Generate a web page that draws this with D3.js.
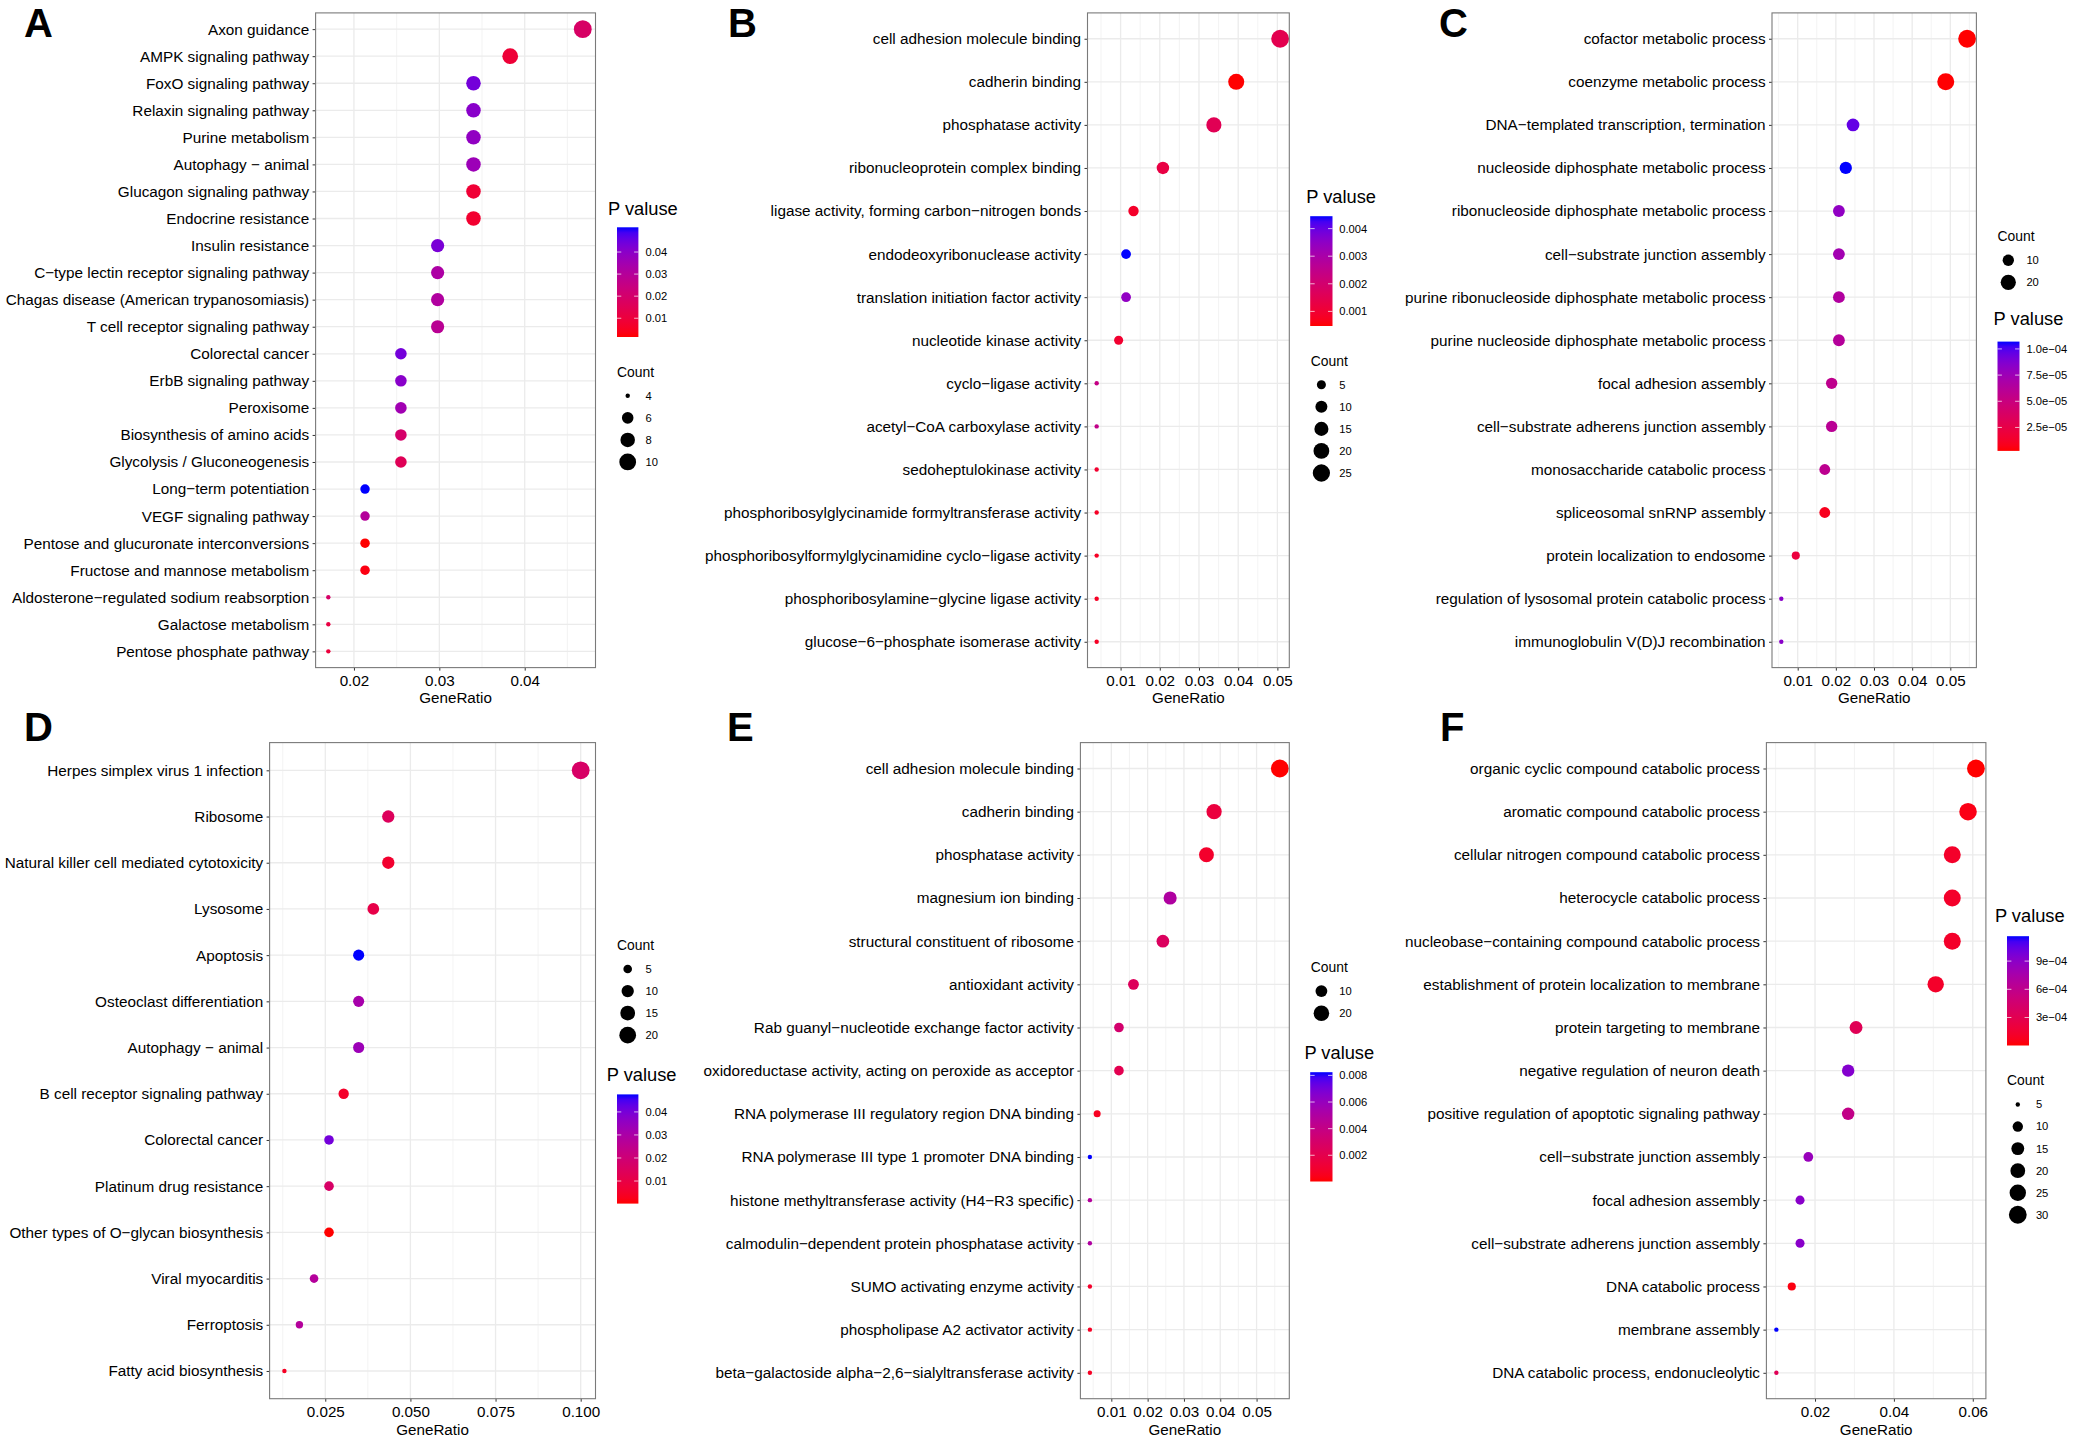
<!DOCTYPE html>
<html>
<head>
<meta charset="utf-8">
<script src="https://cdn.jsdelivr.net/npm/d3@7"></script>
<style>
html,body{margin:0;padding:0;background:#fff;}
svg{display:block;font-family:"Liberation Sans",Arial,sans-serif;}
</style>
</head>
<body>
<svg id="chart" width="2076" height="1443"></svg>
<script>
// ---------- data ----------
const aTerms = ["Axon guidance","AMPK signaling pathway","FoxO signaling pathway","Relaxin signaling pathway","Purine metabolism","Autophagy − animal","Glucagon signaling pathway","Endocrine resistance","Insulin resistance","C−type lectin receptor signaling pathway","Chagas disease (American trypanosomiasis)","T cell receptor signaling pathway","Colorectal cancer","ErbB signaling pathway","Peroxisome","Biosynthesis of amino acids","Glycolysis / Gluconeogenesis","Long−term potentiation","VEGF signaling pathway","Pentose and glucuronate interconversions","Fructose and mannose metabolism","Aldosterone−regulated sodium reabsorption","Galactose metabolism","Pentose phosphate pathway"];
const aRatio = [0.0468,0.0383,0.0340,0.0340,0.0340,0.0340,0.0340,0.0340,0.0298,0.0298,0.0298,0.0298,0.0255,0.0255,0.0255,0.0255,0.0255,0.0213,0.0213,0.0213,0.0213,0.0170,0.0170,0.0170];
const aCount = [11,9,8,8,8,8,8,8,7,7,7,7,6,6,6,6,6,5,5,5,5,4,4,4];
const aP = [0.0185,0.009,0.0437,0.0403,0.0388,0.0363,0.0085,0.0075,0.0428,0.0323,0.0313,0.0288,0.0437,0.0403,0.0353,0.0195,0.0154,0.0512,0.0303,0.0015,0.003,0.0189,0.0114,0.0099];
const aXTicks = [0.02,0.03,0.04];
const aPTicks = [0.01,0.02,0.03,0.04];
const aPLabels = ["0.01","0.02","0.03","0.04"];
const aCountKeys = [4,6,8,10];

const bTerms = ["cell adhesion molecule binding","cadherin binding","phosphatase activity","ribonucleoprotein complex binding","ligase activity, forming carbon−nitrogen bonds","endodeoxyribonuclease activity","translation initiation factor activity","nucleotide kinase activity","cyclo−ligase activity","acetyl−CoA carboxylase activity","sedoheptulokinase activity","phosphoribosylglycinamide formyltransferase activity","phosphoribosylformylglycinamidine cyclo−ligase activity","phosphoribosylamine−glycine ligase activity","glucose−6−phosphate isomerase activity"];
const bRatio = [0.0507,0.0395,0.0338,0.0208,0.0133,0.0114,0.0114,0.0095,0.0039,0.0039,0.0039,0.0039,0.0039,0.0039,0.0039];
const bCount = [27,21,18,11,7,6,6,5,2,2,2,2,2,2,2];
const bP = [0.00147,0.00047,0.00154,0.00127,0.00087,0.00445,0.00346,0.00095,0.00238,0.00246,0.00095,0.0008,0.0008,0.0008,0.0008];
const bXTicks = [0.01,0.02,0.03,0.04,0.05];
const bPTicks = [0.001,0.002,0.003,0.004];
const bPLabels = ["0.001","0.002","0.003","0.004"];
const bCountKeys = [5,10,15,20,25];

const cTerms = ["cofactor metabolic process","coenzyme metabolic process","DNA−templated transcription, termination","nucleoside diphosphate metabolic process","ribonucleoside diphosphate metabolic process","cell−substrate junction assembly","purine ribonucleoside diphosphate metabolic process","purine nucleoside diphosphate metabolic process","focal adhesion assembly","cell−substrate adherens junction assembly","monosaccharide catabolic process","spliceosomal snRNP assembly","protein localization to endosome","regulation of lysosomal protein catabolic process","immunoglobulin V(D)J recombination"];
const cRatio = [0.0544,0.0488,0.0245,0.0226,0.0208,0.0208,0.0208,0.0208,0.0189,0.0189,0.0171,0.0171,0.0095,0.0057,0.0057];
const cCount = [29,26,13,12,11,11,11,11,10,10,9,9,5,3,3];
const cP = [2.6e-6,3.0e-6,9.6e-5,1.07e-4,8.1e-5,7.3e-5,6.5e-5,6.3e-5,5.7e-5,6.0e-5,5.8e-5,9e-6,2.1e-5,8.4e-5,8.4e-5];
const cXTicks = [0.01,0.02,0.03,0.04,0.05];
const cPTicks = [2.5e-5,5e-5,7.5e-5,1e-4];
const cPLabels = ["2.5e−05","5.0e−05","7.5e−05","1.0e−04"];
const cCountKeys = [10,20];

const dTerms = ["Herpes simplex virus 1 infection","Ribosome","Natural killer cell mediated cytotoxicity","Lysosome","Apoptosis","Osteoclast differentiation","Autophagy − animal","B cell receptor signaling pathway","Colorectal cancer","Platinum drug resistance","Other types of O−glycan biosynthesis","Viral myocarditis","Ferroptosis","Fatty acid biosynthesis"];
const dRatio = [0.1,0.0435,0.0435,0.0391,0.0348,0.0348,0.0348,0.0304,0.0261,0.0261,0.0261,0.0217,0.0174,0.013];
const dCount = [23,10,10,9,8,8,8,7,6,6,6,5,4,3];
const dP = [0.0165,0.0145,0.0059,0.0106,0.0476,0.031,0.0334,0.0049,0.0405,0.0165,0.0002,0.0277,0.0277,0.004];
const dXTicks = [0.025,0.05,0.075,0.1];
const dXLabels = ["0.025","0.050","0.075","0.100"];
const dPTicks = [0.01,0.02,0.03,0.04];
const dPLabels = ["0.01","0.02","0.03","0.04"];
const dCountKeys = [5,10,15,20];

const eTerms = ["cell adhesion molecule binding","cadherin binding","phosphatase activity","magnesium ion binding","structural constituent of ribosome","antioxidant activity","Rab guanyl−nucleotide exchange factor activity","oxidoreductase activity, acting on peroxide as acceptor","RNA polymerase III regulatory region DNA binding","RNA polymerase III type 1 promoter DNA binding","histone methyltransferase activity (H4−R3 specific)","calmodulin−dependent protein phosphatase activity","SUMO activating enzyme activity","phospholipase A2 activator activity","beta−galactoside alpha−2,6−sialyltransferase activity"];
const eRatio = [0.0564,0.0383,0.0362,0.0262,0.0242,0.0161,0.0121,0.0121,0.0061,0.0041,0.0041,0.0041,0.0041,0.0041,0.0041];
const eCount = [28,19,18,13,12,8,6,6,3,2,2,2,2,2,2];
const eP = [0.00003,0.0015,0.0009,0.005,0.0026,0.0025,0.0031,0.0021,0.0006,0.00824,0.0048,0.005,0.0009,0.0007,0.0007];
const eXTicks = [0.01,0.02,0.03,0.04,0.05];
const ePTicks = [0.002,0.004,0.006,0.008];
const ePLabels = ["0.002","0.004","0.006","0.008"];
const eCountKeys = [10,20];

const fTerms = ["organic cyclic compound catabolic process","aromatic compound catabolic process","cellular nitrogen compound catabolic process","heterocycle catabolic process","nucleobase−containing compound catabolic process","establishment of protein localization to membrane","protein targeting to membrane","negative regulation of neuron death","positive regulation of apoptotic signaling pathway","cell−substrate junction assembly","focal adhesion assembly","cell−substrate adherens junction assembly","DNA catabolic process","membrane assembly","DNA catabolic process, endonucleolytic"];
const fRatio = [0.0608,0.0588,0.0548,0.0548,0.0548,0.0506,0.0304,0.0284,0.0284,0.0183,0.0162,0.0162,0.0141,0.0102,0.0102];
const fCount = [30,29,27,27,27,25,15,14,14,9,8,8,7,5,5];
const fP = [2e-6,4.7e-5,1.2e-4,1.2e-4,1.2e-4,1.2e-4,3.2e-4,9.3e-4,5.8e-4,8.4e-4,9.1e-4,9.1e-4,3.5e-5,1.165e-3,3.2e-4];
const fXTicks = [0.02,0.04,0.06];
const fPTicks = [3e-4,6e-4,9e-4];
const fPLabels = ["3e−04","6e−04","9e−04"];
const fCountKeys = [5,10,15,20,25,30];

const panelLetters = ["A","B","C","D","E","F"];

// ---------- layout (no values here) ----------
const topRow = {top:12.9,bottom:667.6,tickBase:686,titleBase:703.4};
const botRow = {top:742.6,bottom:1398.7,tickBase:1417,titleBase:1434.6};
const layouts = [
 {row:topRow,x0:315.6,x1:595.5,letter:[24,36.7],
  pT:[608,214.9],bar:[617,638.4,227.3,337],lab:645.5,cT:[617,376.5],kx:627.7,ky:395.8},
 {row:topRow,x0:1087.5,x1:1289.3,letter:[728,36.7],
  pT:[1306.2,203],bar:[1310.2,1332.5,216.2,326],lab:1339.2,cT:[1310.7,365.5],kx:1321.4,ky:384.8},
 {row:topRow,x0:1772,x1:1976.4,letter:[1439,36.7],
  pT:[1993.6,325],bar:[1997.5,2019.5,341.6,450.9],lab:2026.4,cT:[1997.5,241],kx:2008.3,ky:260.3},
 {row:botRow,x0:269.6,x1:595.5,letter:[24,740.7],
  pT:[606.7,1080.5],bar:[617,638.4,1094.4,1203.6],lab:645.5,cT:[617,949.6],kx:627.7,ky:969},
 {row:botRow,x0:1080.4,x1:1289.3,letter:[727,740.7],
  pT:[1304.4,1058.9],bar:[1310.2,1332.5,1072.2,1181.5],lab:1339.2,cT:[1310.7,971.7],kx:1321.4,ky:991.1},
 {row:botRow,x0:1766.4,x1:1985.9,letter:[1440,740.7],
  pT:[1994.9,921.5],bar:[2007,2029,936.2,1045.5],lab:2035.9,cT:[2007,1085.1],kx:2017.8,ky:1104.5}
];
const panels = [
 {terms:aTerms,ratio:aRatio,count:aCount,p:aP,xTicks:aXTicks,pTicks:aPTicks,pLabels:aPLabels,keys:aCountKeys},
 {terms:bTerms,ratio:bRatio,count:bCount,p:bP,xTicks:bXTicks,pTicks:bPTicks,pLabels:bPLabels,keys:bCountKeys},
 {terms:cTerms,ratio:cRatio,count:cCount,p:cP,xTicks:cXTicks,pTicks:cPTicks,pLabels:cPLabels,keys:cCountKeys},
 {terms:dTerms,ratio:dRatio,count:dCount,p:dP,xTicks:dXTicks,xLabels:dXLabels,pTicks:dPTicks,pLabels:dPLabels,keys:dCountKeys},
 {terms:eTerms,ratio:eRatio,count:eCount,p:eP,xTicks:eXTicks,pTicks:ePTicks,pLabels:ePLabels,keys:eCountKeys},
 {terms:fTerms,ratio:fRatio,count:fCount,p:fP,xTicks:fXTicks,pTicks:fPTicks,pLabels:fPLabels,keys:fCountKeys}
];

const KEY_STEP = 22.05, R_MIN = 2.2, R_MAX = 8.9;
const svg = d3.select("#chart");
const defs = svg.append("defs");

panels.forEach((pn,i)=>{
  const L = layouts[i], R = L.row;
  const g = svg.append("g");

  // panel letter
  svg.append("text").attr("x",L.letter[0]).attr("y",L.letter[1])
     .attr("font-size",40).attr("font-weight","bold").attr("fill","#000").text(panelLetters[i]);

  // scales
  const [rMin,rMax] = d3.extent(pn.ratio);
  const pad = (rMax-rMin)*0.05;
  const x = d3.scaleLinear().domain([rMin-pad,rMax+pad]).range([L.x0,L.x1]);
  const y = d3.scalePoint().domain(pn.terms).range([R.top,R.bottom]).padding(0.6);
  const [cMin,cMax] = d3.extent(pn.count);
  const rs = d3.scaleSqrt().domain([0,cMax-cMin]).range([R_MIN,R_MAX]);
  const rad = c => rs(c-cMin);
  const pExt = d3.extent(pn.p);
  const col = d3.scaleLinear().domain(pExt).range(["#ff0000","#0000ff"]).interpolate(d3.interpolateLab);

  // grid
  const stepX = pn.xTicks[1]-pn.xTicks[0];
  const minor = d3.range(-2,pn.xTicks.length+2).map(k=>pn.xTicks[0]+(k+0.5)*stepX)
      .filter(v=>v>x.domain()[0]&&v<x.domain()[1]);
  g.selectAll("line.minor").data(minor).join("line").attr("class","minor")
    .attr("x1",d=>x(d)).attr("x2",d=>x(d)).attr("y1",R.top).attr("y2",R.bottom)
    .attr("stroke","#f0f0f0").attr("stroke-width",0.8);
  g.selectAll("line.majv").data(pn.xTicks).join("line").attr("class","majv")
    .attr("x1",d=>x(d)).attr("x2",d=>x(d)).attr("y1",R.top).attr("y2",R.bottom)
    .attr("stroke","#ebebeb").attr("stroke-width",1.3);
  g.selectAll("line.majh").data(pn.terms).join("line").attr("class","majh")
    .attr("x1",L.x0).attr("x2",L.x1).attr("y1",d=>y(d)).attr("y2",d=>y(d))
    .attr("stroke","#ebebeb").attr("stroke-width",1.3);

  // dots
  g.selectAll("circle.dot").data(pn.terms).join("circle").attr("class","dot")
    .attr("cx",(d,k)=>x(pn.ratio[k])).attr("cy",d=>y(d))
    .attr("r",(d,k)=>rad(pn.count[k])).attr("fill",(d,k)=>col(pn.p[k]));

  // axes
  const xa = d3.axisBottom(x).tickValues(pn.xTicks).tickSize(3).tickPadding(0)
     .tickFormat((d,k)=>pn.xLabels?pn.xLabels[k]:d3.format(".2f")(d));
  const gx = g.append("g").attr("transform",`translate(0,${R.bottom})`).call(xa);
  gx.select(".domain").remove();
  gx.selectAll("line").attr("stroke","#333").attr("stroke-width",1);
  gx.selectAll("text").attr("font-size",15.2).attr("fill","#000").attr("dy",null)
    .attr("y",R.tickBase-R.bottom);

  const ya = d3.axisLeft(y).tickSize(3).tickPadding(3.4);
  const gy = g.append("g").attr("transform",`translate(${L.x0},0)`).call(ya);
  gy.select(".domain").remove();
  gy.selectAll("line").attr("stroke","#333").attr("stroke-width",1);
  gy.selectAll("text").attr("font-size",15.3).attr("fill","#000");

  // border
  g.append("rect").attr("x",L.x0).attr("y",R.top).attr("width",L.x1-L.x0).attr("height",R.bottom-R.top)
    .attr("fill","none").attr("stroke","#7a7a7a").attr("stroke-width",1.1);

  // x title
  g.append("text").attr("x",(L.x0+L.x1)/2).attr("y",R.titleBase).attr("text-anchor","middle")
    .attr("font-size",15.2).attr("fill","#000").text("GeneRatio");

  // P value legend
  const leg = svg.append("g");
  leg.append("text").attr("x",L.pT[0]).attr("y",L.pT[1]).attr("font-size",18.3).attr("fill","#000").text("P valuse");
  const [bx0,bx1,by0,by1] = L.bar;
  const gid = "grad"+i;
  const grad = defs.append("linearGradient").attr("id",gid).attr("x1",0).attr("x2",0).attr("y1",1).attr("y2",0);
  d3.range(0,21).forEach(k=>{
    const t=k/20;
    grad.append("stop").attr("offset",t).attr("stop-color",col(pExt[0]+t*(pExt[1]-pExt[0])));
  });
  leg.append("rect").attr("x",bx0).attr("y",by0).attr("width",bx1-bx0).attr("height",by1-by0).attr("fill",`url(#${gid})`);
  const py = d3.scaleLinear().domain(pExt).range([by1,by0]);
  const tlen = (bx1-bx0)/5;
  pn.pTicks.forEach((v,k)=>{
    const yy = py(v);
    leg.append("line").attr("x1",bx0).attr("x2",bx0+tlen).attr("y1",yy).attr("y2",yy).attr("stroke","#fff").attr("stroke-width",0.7);
    leg.append("line").attr("x1",bx1-tlen).attr("x2",bx1).attr("y1",yy).attr("y2",yy).attr("stroke","#fff").attr("stroke-width",0.7);
    leg.append("text").attr("x",L.lab).attr("y",yy+3.9).attr("font-size",11.2).attr("fill","#000").text(pn.pLabels[k]);
  });

  // Count legend
  leg.append("text").attr("x",L.cT[0]).attr("y",L.cT[1]).attr("font-size",13.9).attr("fill","#000").text("Count");
  pn.keys.forEach((c,k)=>{
    const yy = L.ky+k*KEY_STEP;
    leg.append("circle").attr("cx",L.kx).attr("cy",yy).attr("r",rad(c)).attr("fill","#000");
    leg.append("text").attr("x",L.lab).attr("y",yy+3.9).attr("font-size",11.2).attr("fill","#000").text(c);
  });
});
</script>
</body>
</html>
